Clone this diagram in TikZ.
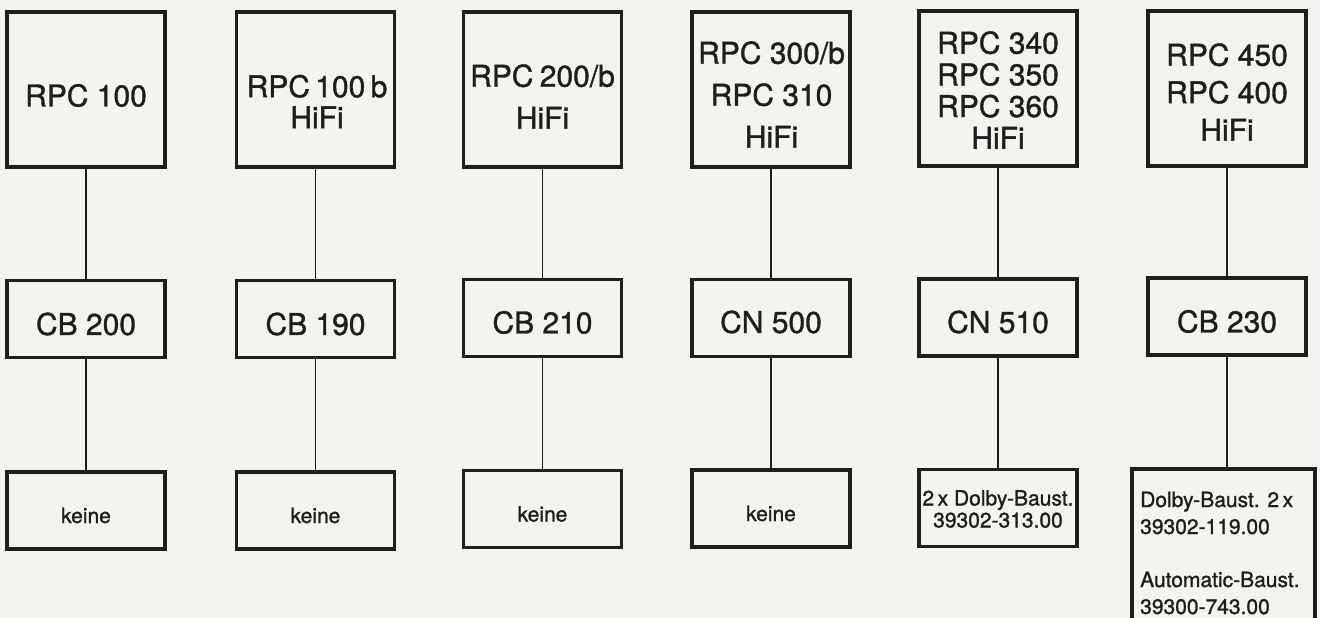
\documentclass[tikz,border=0pt]{standalone}
\usepackage{fontspec}
\setmainfont{TeX Gyre Heros}[FakeBold=1.2]
\newfontfamily\heavyfont{TeX Gyre Heros}[FakeBold=1.2]
\definecolor{ink}{HTML}{1E1E1E}
\definecolor{paper}{HTML}{F3F3F1}
\begin{document}
\begin{tikzpicture}[x=1pt,y=-1pt,
  box/.style={draw=ink, line width=3.3pt, inner sep=0pt, minimum width=158pt},
  tallbox/.style={box, minimum height=155pt},
  midbox/.style={box, minimum height=77pt},
  lbl/.style={inner sep=0pt, align=center, text=ink},
  bigA/.style={lbl, font=\heavyfont\fontsize{30}{31}\selectfont},
  bigB/.style={lbl, font=\heavyfont\fontsize{30}{42}\selectfont},
  bigC/.style={lbl, font=\heavyfont\fontsize{30}{37.5}\selectfont},
  bigD/.style={lbl, font=\heavyfont\fontsize{30}{31.7}\selectfont},
  smallt/.style={lbl, font=\heavyfont\fontsize{21}{22}\selectfont},
  conn/.style={draw=ink, line width=1.3pt}]
\fill[paper] (0,0) rectangle (1320,618);
\useasboundingbox (0,0) rectangle (1320,618);
% top row
\node[tallbox] (t1) at (86,89.5) {};
\node[tallbox] (t2) at (315.5,89.5) {};
\node[tallbox] (t3) at (542.5,89.5) {};
\node[tallbox] (t4) at (771,89.5) {};
\node[tallbox] (t5) at (998,88.5) {};
\node[tallbox] (t6) at (1227,88.5) {};
\node[bigA] (t1l) at (86,95.5) {RPC 100};
\node[bigA] (t2l) at (317,101.5) {RPC\kern-3pt{} 100\kern-3pt{} b\\HiFi};
\node[bigB] (t3l) at (542.5,96.5) {RPC\kern-2pt{} 200/b\\HiFi};
\node[bigB] (t4l) at (771.5,94.5) {RPC 300/b\\RPC 310\\HiFi};
\node[bigD] (t5l) at (998,90) {RPC 340\\RPC 350\\RPC 360\\HiFi};
\node[bigC] (t6l) at (1227,92) {RPC 450\\RPC 400\\HiFi};
% middle row
\node[midbox] (m1) at (86,319) {};
\node[midbox] (m2) at (315.5,319) {};
\node[midbox] (m3) at (542.5,318) {};
\node[midbox] (m4) at (771,318) {};
\node[midbox] (m5) at (998,317.5) {};
\node[midbox] (m6) at (1227,316.5) {};
\node[bigA] (m1l) at (86,324) {CB 200};
\node[bigA] (m2l) at (315.5,324) {CB 190};
\node[bigA] (m3l) at (542.5,322.5) {CB 210};
\node[bigA] (m4l) at (771,322) {CN 500};
\node[bigA] (m5l) at (998,322) {CN 510};
\node[bigA] (m6l) at (1227,321.5) {CB 230};
% bottom row
\node[midbox] (b1) at (86,510.5) {};
\node[midbox] (b2) at (315.5,510.5) {};
\node[midbox] (b3) at (542.5,509) {};
\node[midbox] (b4) at (771,508.5) {};
\node[midbox] (b5) at (998,508) {};
\node[box, minimum width=183pt, minimum height=172pt] (b6) at (1223.5,555) {};
\node[smallt] (b1l) at (86,515.5) {keine};
\node[smallt] (b2l) at (315.5,515.5) {keine};
\node[smallt] (b3l) at (542.5,514) {keine};
\node[smallt] (b4l) at (771,513.5) {keine};
\node[smallt] (b5l) at (998,509) {2\,x Dolby-Baust.\\39302-313.00};
\node[lbl, align=left, anchor=north west, font=\heavyfont\fontsize{21}{27}\selectfont] (b6l) at (1140,491.5)
  {Dolby-Baust. 2\,x\\39302-119.00\\[26pt]Automatic-Baust.\\39300-743.00};
% connectors
\foreach \i in {1,...,6} {\draw[conn] (t\i.south) -- (m\i.north);}
\foreach \i in {1,...,5} {\draw[conn] (m\i.south) -- (b\i.north);}
\draw[conn] (m6.south) -- (m6.south |- b6.north);
\end{tikzpicture}
\end{document}
